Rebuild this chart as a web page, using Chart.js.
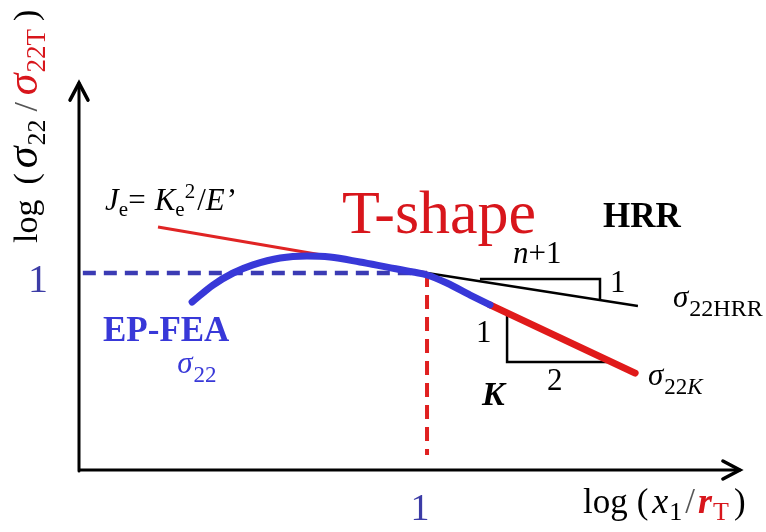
<!DOCTYPE html>
<html>
<head>
<meta charset="utf-8">
<script src="https://cdn.jsdelivr.net/npm/chart.js@4"></script>
<style>
  body { margin: 0; background: #fff; }
  #wrap { width: 766px; height: 532px; position: relative; }
</style>
</head>
<body>
<div id="wrap"><canvas id="MyChart"></canvas></div>
<script>
// x = log(x1/rT), y = log(sigma22/sigma22T), both
const feaX = [0.325, 0.385, 0.443, 0.500, 0.578, 0.655, 0.721, 0.807, 0.885, 0.960, 1.000, 1.057, 1.124, 1.181];
const feaY = [0.853, 0.939, 1.000, 1.041, 1.076, 1.086, 1.081, 1.056, 1.030, 1.005, 0.990, 0.949, 0.888, 0.838];

const jeX = [0.227, 1.0];
const jeY = [1.234, 1.0];

const hrrX = [1.0, 1.606];
const hrrY = [1.0, 0.832];

const kX = [1.181, 1.598];
const kY = [0.838, 0.492];

const refHX = [0.011, 1.0];
const refHY = [1.0, 1.0];
const refVX = [1.0, 1.0];
const refVY = [1.0, 0.076];

const hrrTriX = [1.152, 1.497, 1.497];
const hrrTriY = [0.970, 0.970, 0.863];
const kTriX = [1.230, 1.230, 1.517];
const kTriY = [0.787, 0.548, 0.548];

const xTicks = [1];
const yTicks = [1];
const xAxisEnd = 1.899;
const yAxisEnd = 1.964;

const FONT = '"Liberation Serif", "Times New Roman", serif';
const RED = '#d8161c';
const BLUE = '#3838d8';
const TICKBLUE = '#3c3ca6';

function pts(xs, ys) {
    return xs.map((x, i) => ({x: x, y: ys[i]}));
}

function line(data, color, width, extra) {
    return Object.assign({
        data: data,
        borderColor: color,
        borderWidth: width,
        pointRadius: 0,
        fill: false,
        tension: 0
    }, extra || {});
}

// draws a list of text pieces one after another
function drawRuns(ctx, x, y, list, align) {
    let total = 0;
    list.forEach(r => {
        ctx.font = `${r.st || ''} ${r.s}px ${FONT}`;
        total += ctx.measureText(r.t).width + (r.sp || 0);
    });
    if (align === 'center') x -= total / 2;
    ctx.textBaseline = 'alphabetic';
    ctx.textAlign = 'left';
    list.forEach(r => {
        ctx.font = `${r.st || ''} ${r.s}px ${FONT}`;
        ctx.fillStyle = r.c || '#000';
        ctx.fillText(r.t, x, y + (r.dy || 0));
        x += ctx.measureText(r.t).width + (r.sp || 0);
    });
}

const labels = [
    {x: 0.075, y: 1.320, runs: [
        {t: 'J', s: 31, st: 'italic'}, {t: 'e', s: 21, dy: 6}, {t: '=', s: 31, sp: 9},
        {t: 'K', s: 31, st: 'italic'}, {t: 'e', s: 21, dy: 6}, {t: '2', s: 21, dy: -12, sp: 2},
        {t: '/', s: 31}, {t: 'E', s: 31, st: 'italic', sp: 2}, {t: '\u2019', s: 31}]},
    {x: 0.756, y: 1.203, runs: [{t: 'T-shape', s: 62, c: RED}]},
    {x: 1.506, y: 1.234, runs: [{t: 'HRR', s: 35, st: 'bold'}]},
    {x: 1.247, y: 1.051, runs: [{t: 'n', s: 31, st: 'italic'}, {t: '+1', s: 31}]},
    {x: 1.526, y: 0.904, runs: [{t: '1', s: 31}]},
    {x: 1.707, y: 0.827, runs: [{t: '\u03c3', s: 31, st: 'italic', sp: 1}, {t: '22HRR', s: 24, dy: 9}]},
    {x: 1.141, y: 0.650, runs: [{t: '1', s: 31}]},
    {x: 1.345, y: 0.406, runs: [{t: '2', s: 31}]},
    {x: 1.158, y: 0.330, runs: [{t: 'K', s: 34, st: 'bold italic'}]},
    {x: 1.635, y: 0.431, runs: [{t: '\u03c3', s: 31, st: 'italic', sp: 1}, {t: '22', s: 23, dy: 9}, {t: 'K', s: 23, st: 'italic', dy: 9}]},
    {x: 0.069, y: 0.655, runs: [{t: 'EP-FEA', s: 35, st: 'bold', c: BLUE}]},
    {x: 0.282, y: 0.492, runs: [{t: '\u03c3', s: 31, st: 'italic', c: BLUE, sp: 1}, {t: '22', s: 23, dy: 9, c: BLUE}]},
    {x: 1.448, y: -0.218, runs: [
        {t: 'log', s: 35, sp: 9}, {t: '(', s: 35, sp: 4}, {t: 'x', s: 36, st: 'italic', sp: 1},
        {t: '1', s: 26, dy: 7, sp: 3}, {t: '/', s: 35, c: '#555', sp: 3},
        {t: 'r', s: 36, st: 'bold italic', c: RED, sp: 1},
        {t: 'T', s: 26, dy: 7, c: RED, sp: 5}, {t: ')', s: 35}]}
];

const yTitle = {x: -0.121, y: 1.152, runs: [
    {t: 'log', s: 34, sp: 15}, {t: '(', s: 34, sp: 5}, {t: '\u03c3', s: 44, st: 'italic', sp: 1},
    {t: '22', s: 26, dy: 8, sp: 8}, {t: '/', s: 34, c: '#555', sp: 7},
    {t: '\u03c3', s: 44, st: 'italic', c: RED, sp: 1}, {t: '22T', s: 27, dy: 8, c: RED, sp: 8}, {t: ')', s: 34}]};

const sketch = {
    id: 'sketch',
    beforeDatasetsDraw(chart) {
        const ctx = chart.ctx;
        const xs = chart.scales.x, ys = chart.scales.y;
        const ox = xs.getPixelForValue(0), oy = ys.getPixelForValue(0);
        const ex = xs.getPixelForValue(xAxisEnd), ey = ys.getPixelForValue(yAxisEnd);
        ctx.save();
        ctx.strokeStyle = '#000';
        ctx.lineWidth = 3;
        ctx.lineCap = 'round';
        ctx.beginPath();
        ctx.moveTo(ox, oy); ctx.lineTo(ex, oy);
        ctx.moveTo(ox, oy + 1); ctx.lineTo(ox, ey);
        ctx.stroke();
        ctx.lineWidth = 3.5;
        ctx.beginPath();
        ctx.moveTo(ex - 17, oy - 9); ctx.lineTo(ex, oy); ctx.lineTo(ex - 17, oy + 9);
        ctx.moveTo(ox - 9, ey + 17); ctx.lineTo(ox, ey); ctx.lineTo(ox + 9, ey + 17);
        ctx.stroke();
        ctx.restore();
    },
    afterDatasetsDraw(chart) {
        const ctx = chart.ctx;
        const xs = chart.scales.x, ys = chart.scales.y;
        ctx.save();
        xTicks.forEach(v => drawRuns(ctx, xs.getPixelForValue(v) - 7, ys.getPixelForValue(-0.254),
            [{t: String(v), s: 38, c: TICKBLUE}], 'center'));
        yTicks.forEach(v => drawRuns(ctx, xs.getPixelForValue(-0.118), ys.getPixelForValue(v) + 19,
            [{t: String(v), s: 40, c: TICKBLUE}], 'center'));
        labels.forEach(l => drawRuns(ctx, xs.getPixelForValue(l.x), ys.getPixelForValue(l.y), l.runs));
        ctx.translate(xs.getPixelForValue(yTitle.x), ys.getPixelForValue(yTitle.y));
        ctx.rotate(-Math.PI / 2);
        drawRuns(ctx, 0, 0, yTitle.runs);
        ctx.restore();
    }
};

const config = {
    type: 'line',
    data: {
        datasets: [
            line(pts(feaX, feaY), BLUE, 7, {cubicInterpolationMode: 'monotone', borderCapStyle: 'round'}),
            line(pts(kX, kY), '#e01a1a', 7, {borderCapStyle: 'round'}),
            line(pts(jeX, jeY), '#e02424', 3),
            line(pts(hrrX, hrrY), '#000', 2.5),
            line(pts(hrrTriX, hrrTriY), '#000', 2.5),
            line(pts(kTriX, kTriY), '#000', 2.5),
            line(pts(refVX, refVY), '#e02020', 4, {borderDash: [14, 8]}),
            line(pts(refHX, refHY), '#3b3bb4', 4.5, {borderDash: [13, 8]})
        ]
    },
    options: {
        responsive: true,
        maintainAspectRatio: false,
        animation: false,
        layout: {padding: 0},
        plugins: {legend: {display: false}, tooltip: {enabled: false}},
        scales: {
            x: {type: 'linear', display: false, min: -0.227, max: 1.974},
            y: {type: 'linear', display: false, min: -0.3147, max: 2.3858}
        }
    },
    plugins: [sketch]
};

const myChart = new Chart(document.getElementById('MyChart'), config);
</script>
</body>
</html>
